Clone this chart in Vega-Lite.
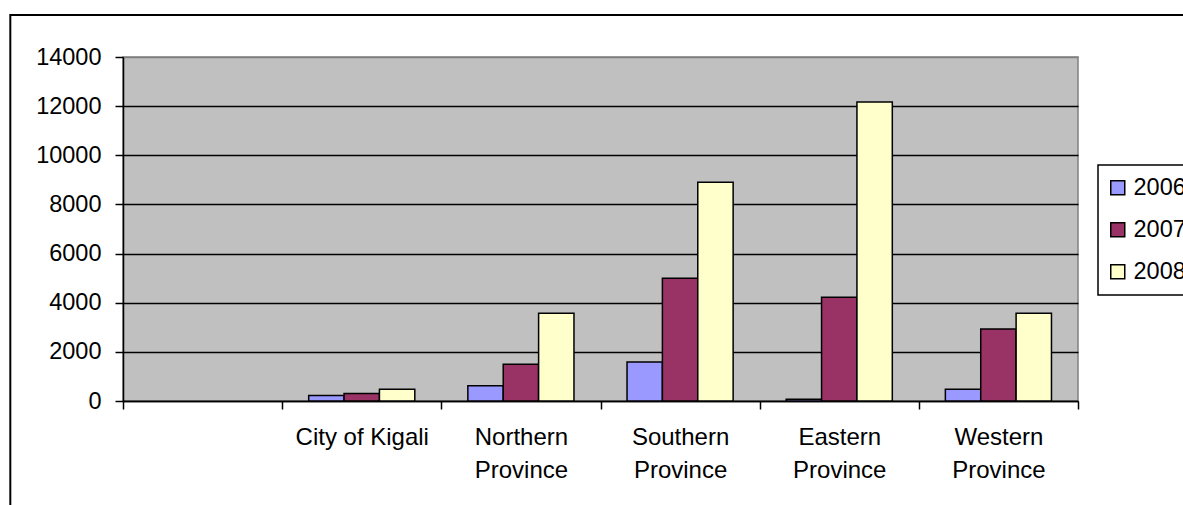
{
  "$schema": "https://vega.github.io/schema/vega-lite/v6.json",
  "autosize": {"type": "none"},
  "padding": {"left": 123, "top": 57, "right": 105, "bottom": 104},
  "width": 955,
  "height": 344,
  "background": "white",
  "config": {
    "font": "Liberation Sans",
    "view": {"fill": "#C0C0C0", "stroke": "#808080", "strokeWidth": 1.5},
    "legend": {"strokeWidth": 1.5}
  },
  "datasets": {
    "counts": [
      {"province": "City of Kigali", "year": "2006", "value": 220},
      {"province": "City of Kigali", "year": "2007", "value": 310},
      {"province": "City of Kigali", "year": "2008", "value": 480},
      {"province": "Northern Province", "year": "2006", "value": 620},
      {"province": "Northern Province", "year": "2007", "value": 1500},
      {"province": "Northern Province", "year": "2008", "value": 3570},
      {"province": "Southern Province", "year": "2006", "value": 1590},
      {"province": "Southern Province", "year": "2007", "value": 5000},
      {"province": "Southern Province", "year": "2008", "value": 8900},
      {"province": "Eastern Province", "year": "2006", "value": 70},
      {"province": "Eastern Province", "year": "2007", "value": 4220},
      {"province": "Eastern Province", "year": "2008", "value": 12170},
      {"province": "Western Province", "year": "2006", "value": 480},
      {"province": "Western Province", "year": "2007", "value": 2930},
      {"province": "Western Province", "year": "2008", "value": 3570}
    ],
    "frame": [{"left": -0.118, "right": 1.2, "top": 15709, "bottom": -5000}]
  },
  "layer": [
    {
      "description": "Outer chart border, drawn in data units so it sits around the plot",
      "data": {"name": "frame"},
      "mark": {"type": "rect", "fill": null, "stroke": "black", "strokeWidth": 2, "clip": false},
      "encoding": {
        "x": {"field": "left", "type": "quantitative", "scale": {"domain": [0, 1], "nice": false, "zero": false}, "axis": null},
        "x2": {"field": "right"},
        "y": {"field": "top", "type": "quantitative"},
        "y2": {"field": "bottom"}
      }
    },
    {
      "data": {"name": "counts"},
      "mark": {"type": "bar", "stroke": "black", "strokeWidth": 1.5},
      "encoding": {
        "x": {
          "field": "province",
          "type": "nominal",
          "scale": {
            "domain": ["(blank)", "City of Kigali", "Northern Province", "Southern Province", "Eastern Province", "Western Province"],
            "paddingInner": 0,
            "paddingOuter": 0
          },
          "axis": {
            "title": null,
            "labelAngle": 0,
            "tickBand": "extent",
            "domainColor": "black",
            "domainWidth": 1.5,
            "tickColor": "black",
            "tickWidth": 1.5,
            "tickSize": 8,
            "labelPadding": 16,
            "labelFontSize": 24,
            "labelColor": "black",
            "labelLineHeight": 33,
            "labelBaseline": "top",
            "labelExpr": "(!isString(datum.value) || datum.value == '(blank)') ? '' : (datum.value == 'City of Kigali' ? datum.value : split(datum.value, ' '))"
          }
        },
        "xOffset": {
          "field": "year",
          "type": "nominal",
          "scale": {"paddingInner": 0, "paddingOuter": 0.75}
        },
        "y": {
          "field": "value",
          "type": "quantitative",
          "scale": {"domain": [0, 14000], "nice": false},
          "axis": {
            "title": null,
            "values": [0, 2000, 4000, 6000, 8000, 10000, 12000, 14000],
            "format": "d",
            "grid": true,
            "gridColor": {"condition": {"test": "datum.value == 14000", "value": "#808080"}, "value": "black"},
            "gridWidth": 1.5,
            "domainColor": "black",
            "domainWidth": 1.5,
            "tickColor": "black",
            "tickWidth": 1.5,
            "tickSize": 8,
            "labelPadding": 14,
            "labelFontSize": 23.5,
            "labelColor": "black"
          }
        },
        "color": {
          "field": "year",
          "type": "nominal",
          "scale": {"domain": ["2006", "2007", "2008"], "range": ["#9999FF", "#993366", "#FFFFCC"]},
          "legend": {
            "title": null,
            "orient": "none",
            "legendX": 975,
            "legendY": 108,
            "fillColor": "white",
            "strokeColor": "black",
            "padding": 11,
            "symbolType": "square",
            "symbolSize": 196,
            "symbolOffset": -3,
            "symbolStrokeColor": "black",
            "symbolStrokeWidth": 1.5,
            "labelFontSize": 23.5,
            "labelColor": "black",
            "labelOffset": 4,
            "rowPadding": 17
          }
        }
      }
    }
  ],
  "resolve": {"scale": {"x": "independent"}}
}
